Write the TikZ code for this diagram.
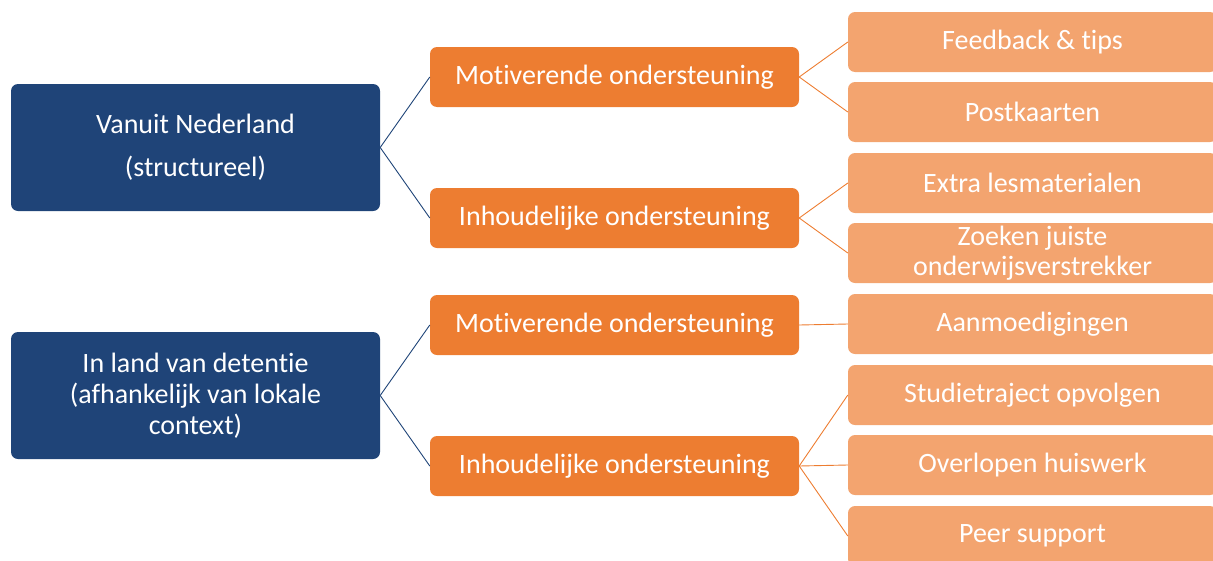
\documentclass[tikz,border=0pt]{standalone}
\usepackage{fontspec}
\setmainfont{Carlito}[Ligatures=NoCommon]
\definecolor{navy}{HTML}{1F4478}
\definecolor{orng}{HTML}{ED7D31}
\definecolor{lorng}{HTML}{F3A46F}
\begin{document}
\begin{tikzpicture}[x=1pt,y=-1pt,
  box/.style={rounded corners=7pt, text=white, align=center, minimum width=369pt, inner sep=2pt, font=\fontsize{28}{30}\selectfont},
  bluebox/.style={box, fill=navy, minimum height=127pt},
  midbox/.style={box, fill=orng, minimum height=60pt},
  leafbox/.style={box, fill=lorng, minimum height=60pt},
  blink/.style={draw=navy, line width=0.9pt},
  olink/.style={draw=orng, line width=0.9pt}]
\useasboundingbox (0,0) rectangle (1213,560);
\clip (0,0) rectangle (1213,560);
\node[bluebox, font=\fontsize{28}{43}\selectfont] (b1) at (195.5,147.5) {Vanuit Nederland\\(structureel)};
\node[bluebox, font=\fontsize{28}{31}\selectfont] (b2) at (195.5,395.5) {In land van detentie\\(afhankelijk van lokale\\context)};
\node[midbox] (m1) at (614.5,77) {Motiverende ondersteuning};
\node[midbox] (m2) at (614.5,218) {Inhoudelijke ondersteuning};
\node[midbox] (m3) at (614.5,325) {Motiverende ondersteuning};
\node[midbox] (m4) at (614.5,466) {Inhoudelijke ondersteuning};
\node[leafbox] (l1) at (1032.5,42) {Feedback \& tips};
\node[leafbox] (l2) at (1032.5,112) {Postkaarten};
\node[leafbox] (l3) at (1032.5,183) {Extra lesmaterialen};
\node[leafbox, font=\fontsize{28}{30}\selectfont] (l4) at (1032.5,253) {Zoeken juiste\\onderwijsverstrekker};
\node[leafbox] (l5) at (1032.5,324) {Aanmoedigingen};
\node[leafbox] (l6) at (1032.5,395) {Studietraject opvolgen};
\node[leafbox] (l7) at (1032.5,465) {Overlopen huiswerk};
\node[leafbox] (l8) at (1032.5,536) {Peer support};
\draw[blink] (b1.east) -- (m1.west);
\draw[blink] (b1.east) -- (m2.west);
\draw[blink] (b2.east) -- (m3.west);
\draw[blink] (b2.east) -- (m4.west);
\draw[olink] (m1.east) -- (l1.west);
\draw[olink] (m1.east) -- (l2.west);
\draw[olink] (m2.east) -- (l3.west);
\draw[olink] (m2.east) -- (l4.west);
\draw[olink] (m3.east) -- (l5.west);
\draw[olink] (m4.east) -- (l6.west);
\draw[olink] (m4.east) -- (l7.west);
\draw[olink] (m4.east) -- (l8.west);
\end{tikzpicture}
\end{document}
